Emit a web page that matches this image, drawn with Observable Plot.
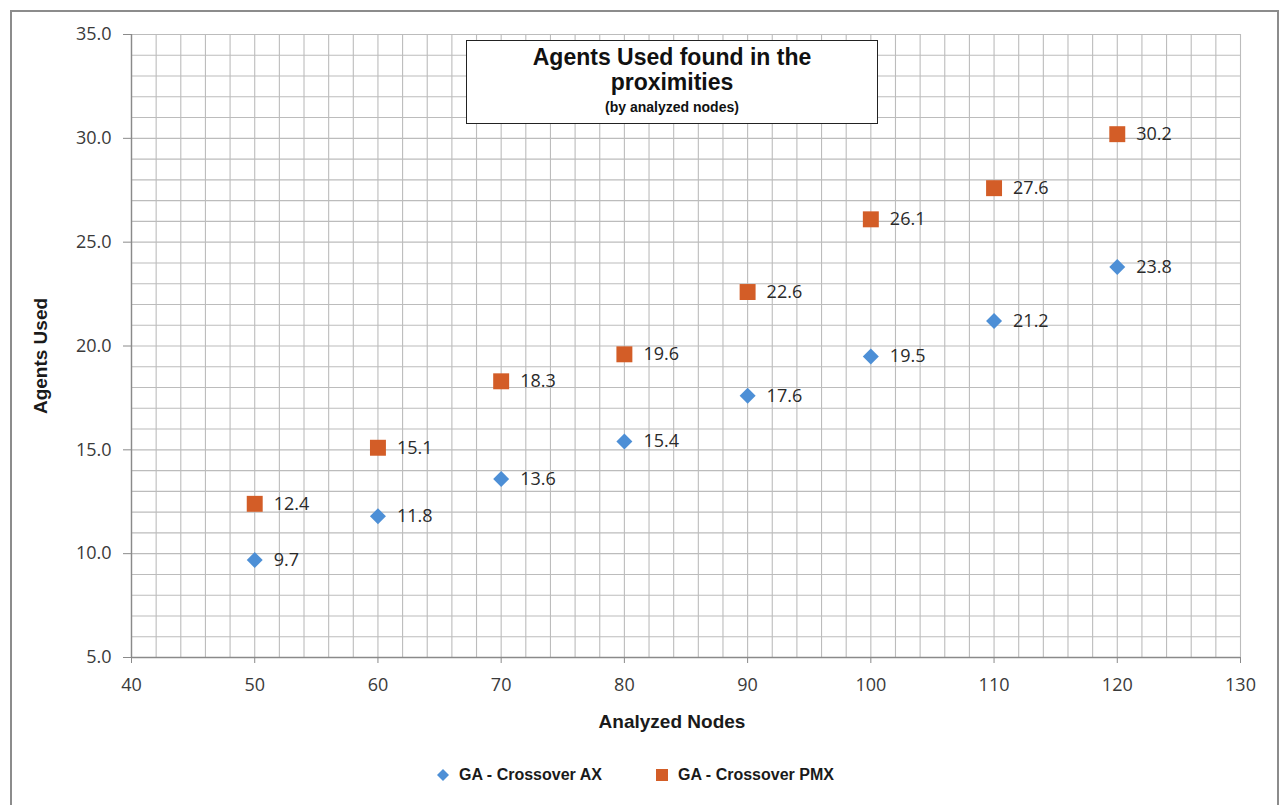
<!DOCTYPE html>
<html>
<head>
<meta charset="utf-8">
<script src="https://cdn.jsdelivr.net/npm/d3@7"></script>
<script src="https://cdn.jsdelivr.net/npm/@observablehq/plot@0.6"></script>
<style>
  html, body { margin: 0; padding: 0; background: #fff; }
  #wrap { position: relative; width: 1285px; height: 805px; overflow: hidden; background: #fff; }
  #border { position: absolute; left: 10px; top: 10px; width: 1269px; height: 810px; border: 2px solid #8c8c8c; box-sizing: border-box; }
  #chart { position: absolute; left: 0; top: 0; }
  .title-box { position: absolute; left: 466px; top: 40px; width: 412px; height: 84px; border: 1.5px solid #222; background: #fff; box-sizing: border-box; text-align: center; font-family: "Liberation Sans", Arial, sans-serif; font-weight: bold; color: #111; }
  .t1 { position: absolute; left: 0; right: 0; top: 4px; font-size: 23px; line-height: 25px; }
  .t2 { position: absolute; left: 0; right: 0; top: 58px; font-size: 14px; line-height: 16px; }
  .axis-title { position: absolute; font-family: "Liberation Sans", Arial, sans-serif; font-weight: bold; font-size: 19px; color: #1a1a1a; white-space: nowrap; }
  .legend { position: absolute; top: 766px; font-family: "Liberation Sans", Arial, sans-serif; font-weight: bold; font-size: 16px; color: #1a1a1a; white-space: nowrap; display: flex; align-items: center; }
  .sw { display: inline-block; margin-right: 9px; }
</style>
</head>
<body>
<div id="wrap">
  <div id="border"></div>
  <div id="chart"></div>
  <div class="title-box">
    <div class="t1">Agents Used found in the<br>proximities</div>
    <div class="t2">(by analyzed nodes)</div>
  </div>
  <div class="axis-title" id="xtitle" style="left:672px; top:722px; transform: translate(-50%, -50%);">Analyzed Nodes</div>
  <div class="axis-title" id="ytitle" style="left:41px; top:356px; transform: translate(-50%, -50%) rotate(-90deg);">Agents Used</div>
  <div id="legend"></div>
</div>
<script>
// ---- data ----
const nodes = [50, 60, 70, 80, 90, 100, 110, 120];
const agentsAX = [9.7, 11.8, 13.6, 15.4, 17.6, 19.5, 21.2, 23.8];
const agentsPMX = [12.4, 15.1, 18.3, 19.6, 22.6, 26.1, 27.6, 30.2];
const seriesNames = ["GA - Crossover AX", "GA - Crossover PMX"];
const xTicks = [40, 50, 60, 70, 80, 90, 100, 110, 120, 130];
const yTicks = [5, 10, 15, 20, 25, 30, 35];

const colors = { "GA - Crossover AX": "#4d8fd6", "GA - Crossover PMX": "#d35d27" };

const rows = [
  ...nodes.map((n, i) => ({ x: n, y: agentsAX[i], s: seriesNames[0] })),
  ...nodes.map((n, i) => ({ x: n, y: agentsPMX[i], s: seriesNames[1] }))
];
const ax = rows.filter(d => d.s === seriesNames[0]);
const pmx = rows.filter(d => d.s === seriesNames[1]);

const chart = Plot.plot({
  width: 1285,
  height: 745,
  marginLeft: 131,
  marginRight: 45,
  marginTop: 34,
  marginBottom: 88,
  style: { fontFamily: "'Open Sans', sans-serif", fontSize: "18px", color: "#3a3a3a", background: "transparent" },
  x: { domain: [40, 130] },
  y: { domain: [5, 35] },
  marks: [
    Plot.gridX(d3.range(40, 131, 2), { stroke: "#bcbcbc", strokeOpacity: 1, strokeWidth: 1.1 }),
    Plot.gridY(d3.range(5, 36, 1), { stroke: "#bcbcbc", strokeOpacity: 1, strokeWidth: 1.1 }),
    Plot.ruleX([40], { stroke: "#8a8a8a", strokeWidth: 1.4 }),
    Plot.ruleY([5], { stroke: "#8a8a8a", strokeWidth: 1.4 }),
    Plot.axisX(xTicks, { tickSize: 6, tickPadding: 15, stroke: "#8a8a8a", fill: "#3a3a3a", fontSize: 18, label: null }),
    Plot.axisY(yTicks, { tickSize: 8, tickPadding: 12, stroke: "#8a8a8a", fill: "#3a3a3a", fontSize: 18, tickFormat: d => d.toFixed(1), label: null }),
    Plot.dot(pmx, { x: "x", y: "y", symbol: "square", r: 9, fill: colors[seriesNames[1]], stroke: "none" }),
    Plot.dot(ax, { x: "x", y: "y", symbol: "diamond2", r: 7.2, fill: colors[seriesNames[0]], stroke: "none" }),
    Plot.text(rows, { x: "x", y: "y", text: d => d.y.toFixed(1), dx: 19, textAnchor: "start", fill: "#2a2a2a", fontSize: 18 })
  ]
});
document.getElementById("chart").appendChild(chart);

// legend
const legend = document.getElementById("legend");
const legendPos = [436, 655];
seriesNames.forEach((name, i) => {
  const item = document.createElement("div");
  item.className = "legend";
  item.style.left = legendPos[i] + "px";
  const sw = document.createElementNS("http://www.w3.org/2000/svg", "svg");
  sw.setAttribute("width", 14); sw.setAttribute("height", 14);
  sw.setAttribute("class", "sw");
  if (i === 0) {
    const p = document.createElementNS("http://www.w3.org/2000/svg", "path");
    p.setAttribute("d", "M7,1 L13,7 L7,13 L1,7 Z");
    p.setAttribute("fill", colors[name]);
    sw.appendChild(p);
  } else {
    const r = document.createElementNS("http://www.w3.org/2000/svg", "rect");
    r.setAttribute("x", 1); r.setAttribute("y", 1); r.setAttribute("width", 12); r.setAttribute("height", 12);
    r.setAttribute("fill", colors[name]);
    sw.appendChild(r);
  }
  item.appendChild(sw);
  const t = document.createElement("span");
  t.textContent = name;
  item.appendChild(t);
  legend.appendChild(item);
});
</script>
</body>
</html>
